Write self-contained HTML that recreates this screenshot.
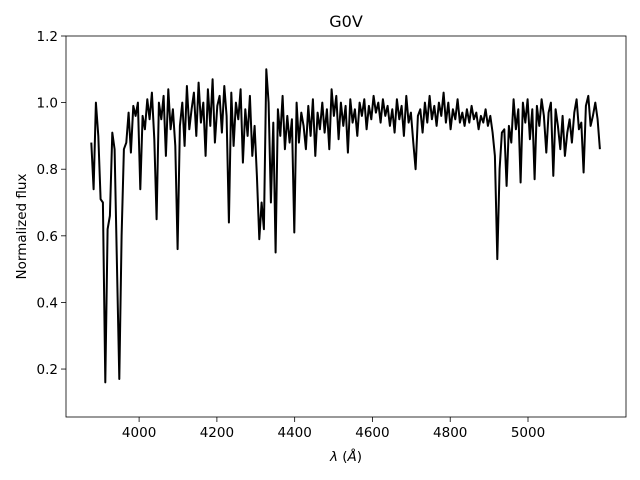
<!DOCTYPE html>
<html><head><meta charset="utf-8"><style>
body{margin:0;background:#fff}
svg{display:block;font-family:"DejaVu Sans","Liberation Sans",sans-serif}
</style></head><body>
<svg id="chart" width="640" height="480"></svg>
<script>
const xTicks=[4000,4200,4400,4600,4800,5000];
const yTicks=[0.2,0.4,0.6,0.8,1.0,1.2];
const wlStart=3877, wlStep=6;
const flux=[
0.88,0.74,1.0,0.90,0.71,0.70,0.16,0.62,0.66,0.91,
0.86,0.52,0.17,0.60,0.86,0.88,0.97,0.85,0.99,0.96,
1.0,0.74,0.96,0.92,1.01,0.95,1.03,0.89,0.65,1.0,
0.95,1.02,0.84,1.04,0.92,0.98,0.87,0.56,0.93,1.0,
0.87,1.05,0.92,0.98,1.03,0.90,1.06,0.94,1.0,0.84,
1.04,0.93,1.07,0.88,0.99,1.02,0.91,1.05,0.96,0.64,
1.03,0.87,1.0,0.95,1.04,0.82,0.98,0.90,1.02,0.84,
0.93,0.78,0.59,0.70,0.62,1.10,1.00,0.70,0.94,0.55,
0.98,0.90,1.02,0.86,0.96,0.88,0.95,0.61,1.0,0.88,
0.97,0.93,0.86,0.99,0.90,1.01,0.84,0.97,0.92,1.0,
0.91,0.98,0.86,1.04,0.96,1.02,0.89,1.0,0.93,0.99,
0.85,1.01,0.94,0.98,0.90,1.0,0.96,1.01,0.92,0.99,
0.95,1.02,0.97,1.0,0.94,1.01,0.96,0.99,0.93,0.98,
0.91,1.01,0.95,0.99,0.90,1.02,0.94,0.97,0.88,0.80,
0.96,0.98,0.91,1.0,0.94,1.02,0.95,0.99,0.93,1.0,
0.96,1.03,0.94,1.0,0.92,0.98,0.95,1.01,0.94,0.97,
0.93,0.98,0.94,0.99,0.95,0.97,0.92,0.96,0.94,0.98,
0.93,0.96,0.91,0.84,0.53,0.80,0.91,0.92,0.75,0.93,
0.88,1.01,0.92,0.98,0.76,1.0,0.94,1.01,0.89,0.98,
0.77,0.99,0.93,1.01,0.96,0.85,0.97,1.0,0.78,0.98,
0.93,0.86,0.96,0.84,0.91,0.95,0.88,0.97,1.01,0.92,
0.94,0.79,0.99,1.02,0.93,0.96,1.0,0.95,0.86];
const wavelengths=flux.map((_,i)=>wlStart+i*wlStep);

const L=66,R=626,T=36,B=417;
const xMin=3812,xMax=5252,yMin=0.056,yMax=1.2;
const sx=v=>L+(v-xMin)/(xMax-xMin)*(R-L);
const sy=v=>B-(v-yMin)/(yMax-yMin)*(B-T);
const svg=document.getElementById('chart');
const NS='http://www.w3.org/2000/svg';
function mk(tag,attrs){const e=document.createElementNS(NS,tag);for(const k in attrs)e.setAttribute(k,attrs[k]);svg.appendChild(e);return e;}

let d='';
wavelengths.forEach((w,i)=>{d+=(i?'L':'M')+sx(w).toFixed(1)+','+sy(flux[i]).toFixed(1);});
const line=mk('path',{d:d,fill:'none',stroke:'#000','stroke-width':2,'stroke-linejoin':'round'});



xTicks.forEach(t=>{
  const x=sx(t);
  const tk=mk('line',{x1:x,x2:x,y1:B,y2:B+5,stroke:'#000','stroke-width':0.8});
  
  
  const tx=mk('text',{x:x,y:B+20,'font-size':13.5,'text-anchor':'middle'});
  tx.textContent=t;
  
  
});
yTicks.forEach(t=>{
  const y=sy(t);
  const tk=mk('line',{x1:L-5,x2:L,y1:y,y2:y,stroke:'#000','stroke-width':0.8});
  
  
  const tx=mk('text',{x:L-8,y:y+5,'font-size':13.5,'text-anchor':'end'});
  tx.textContent=t.toFixed(1);
  
  
});
const frame=mk('rect',{x:L,y:T,width:R-L,height:B-T,fill:'none',stroke:'#000','stroke-width':0.8});


const title=mk('text',{x:(L+R)/2,y:27,'font-size':16,'text-anchor':'middle'});
title.textContent='G0V';


const xl=mk('text',{x:(L+R)/2,y:461,'font-size':13.5,'text-anchor':'middle'});
xl.innerHTML='<tspan font-style="italic">λ</tspan> (<tspan font-style="italic">Å</tspan>)';


const yl=mk('text',{x:0,y:0,'font-size':13.5,'text-anchor':'middle',transform:'translate(26,'+((T+B)/2)+') rotate(-90)'});
yl.textContent='Normalized flux';


</script>
</body></html>
